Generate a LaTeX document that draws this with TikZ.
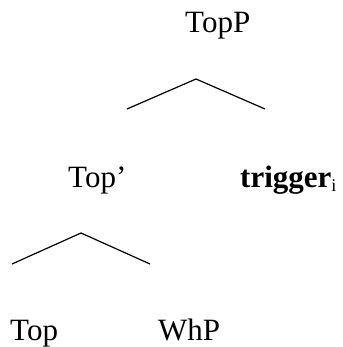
\documentclass[tikz,border=0pt]{standalone}
\usepackage{fontspec}
\setmainfont{Liberation Serif}
\begin{document}
\begin{tikzpicture}[x=1pt,y=-1pt,
  lbl/.style={anchor=base west,inner sep=0pt,font=\fontsize{31}{37}\selectfont},
  branch/.style={line width=1.2pt,black}]
\useasboundingbox (0,0) rectangle (342,347);
\node[lbl] (topp) at (185,33) {TopP};
\node[lbl] (topbar) at (68,187) {Top’};
\node[lbl] (trig) at (240,187) {\textbf{trigger}\raisebox{-0.15em}{\fontsize{18}{20}\selectfont i}};
\node[lbl] (top) at (10,340) {Top};
\node[lbl] (whp) at (158,340) {WhP};
\coordinate (a1) at (196,79);
\coordinate (l1) at (127,109);
\coordinate (r1) at (265,109);
\coordinate (a2) at (81,233);
\coordinate (l2) at (12,264);
\coordinate (r2) at (150,264);
\draw[branch] (l1) -- (a1) -- (r1);
\draw[branch] (l2) -- (a2) -- (r2);
\end{tikzpicture}
\end{document}
